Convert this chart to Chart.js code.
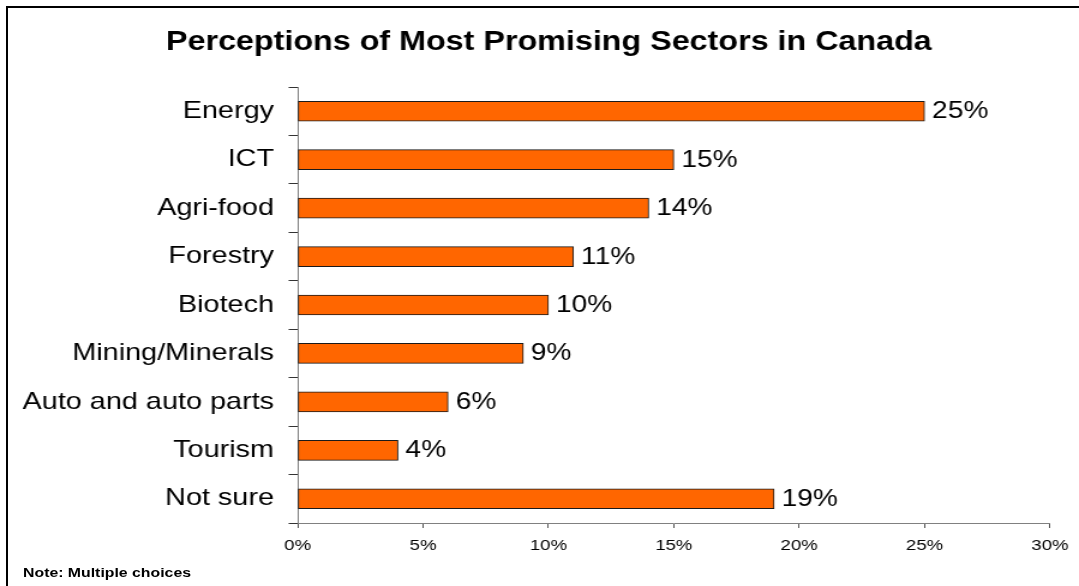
<!DOCTYPE html>
<html>
<head>
<meta charset="utf-8">
<script src="https://cdn.jsdelivr.net/npm/chart.js@4"></script>
<style>
  html, body { margin: 0; padding: 0; background: #fff; overflow: hidden; }
  body { width: 1079px; height: 586px; position: relative; }
  #frame {
    position: absolute; left: 6px; top: 6px; width: 1200px; height: 700px;
    border-left: 2px solid #000; border-top: 2px solid #000;
  }
  /* the chart is laid out a little narrower and stretched sideways */
  #wrap {
    position: absolute; left: 0; top: 0; width: 899px; height: 586px;
    transform: scaleX(1.2002); transform-origin: 0 0;
  }
  #note {
    position: absolute; left: 19.2px; top: 565.5px;
    font: bold 13.2px/13.2px "Liberation Sans", Arial, sans-serif; color: #000;
  }
</style>
</head>
<body>
<div id="frame"></div>
<div id="wrap">
  <canvas id="sectorChart"></canvas>
  <div id="note">Note: Multiple choices</div>
</div>
<script>
const sectors = ["Energy", "ICT", "Agri-food", "Forestry", "Biotech",
  "Mining/Minerals", "Auto and auto parts", "Tourism", "Not sure"];
const shares = [25, 15, 14, 11, 10, 9, 6, 4, 19];
const xTicks = [0, 5, 10, 15, 20, 25, 30];
const chartTitle = "Perceptions of Most Promising Sectors in Canada";

const FONT = '"Liberation Sans", Arial, sans-serif';

// heading, centred a bit right of the canvas middle
const heading = {
  id: "heading",
  afterDraw(chart) {
    const ctx = chart.ctx;
    ctx.save();
    ctx.font = "bold 26.9px " + FONT;
    ctx.fillStyle = "#000";
    ctx.textAlign = "center";
    ctx.textBaseline = "alphabetic";
    ctx.fillText(chartTitle, 457.3, 49.5);
    ctx.restore();
  }
};

// value labels at the end of each bar
const barLabels = {
  id: "barLabels",
  afterDatasetsDraw(chart) {
    const ctx = chart.ctx;
    const meta = chart.getDatasetMeta(0);
    ctx.save();
    ctx.font = "23.4px " + FONT;
    ctx.fillStyle = "#000";
    ctx.textAlign = "left";
    ctx.textBaseline = "middle";
    meta.data.forEach((bar, i) => {
      ctx.fillText(shares[i] + "%", bar.x + 6.3, bar.y + 0.5);
    });
    ctx.restore();
  }
};

const ctx = document.getElementById("sectorChart").getContext("2d");
new Chart(ctx, {
  type: "bar",
  data: {
    labels: sectors,
    datasets: [{
      data: shares,
      backgroundColor: "#FF6600",
      borderColor: "#1a1a1a",
      borderWidth: 1,
      borderSkipped: false,
      barThickness: 20
    }]
  },
  options: {
    indexAxis: "y",
    responsive: true,
    maintainAspectRatio: false,
    animation: false,
    layout: { padding: { left: 0, right: 19.8, top: 87, bottom: 0 } },
    plugins: {
      legend: { display: false },
      tooltip: { enabled: false },
      title: { display: false }
    },
    scales: {
      y: {
        afterFit(scale) { scale.width = 248.0; },
        grid: { display: true, drawOnChartArea: false, drawTicks: true,
                tickLength: 7.5, color: "#333", offset: true },
        border: { color: "#808080", width: 1 },
        ticks: { color: "#000", padding: 12.2,
                 font: { family: FONT, size: 24 } }
      },
      x: {
        min: 0,
        max: 30,
        afterFit(scale) { scale.height = 63; },
        afterBuildTicks(scale) { scale.ticks = xTicks.map(v => ({ value: v })); },
        grid: { display: true, drawOnChartArea: false, drawTicks: true,
                tickLength: 5, color: "#555" },
        border: { color: "#808080", width: 1 },
        ticks: { color: "#000", padding: 8.7, maxRotation: 0,
                 font: { family: FONT, size: 15.5 },
                 callback: v => v + "%" }
      }
    }
  },
  plugins: [barLabels, heading]
});
</script>
</body>
</html>
